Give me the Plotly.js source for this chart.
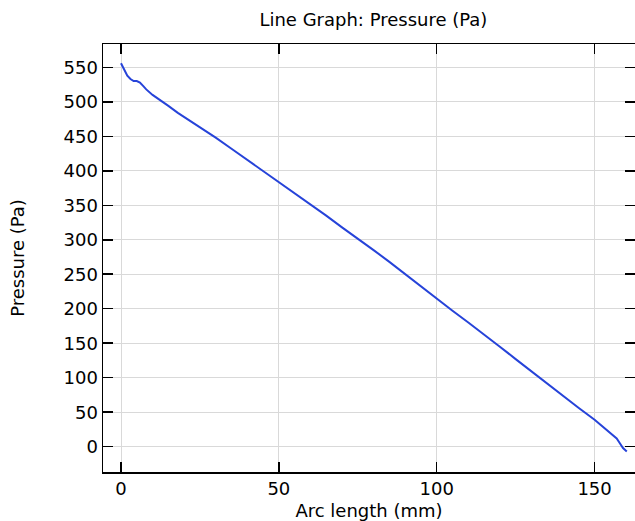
<!DOCTYPE html>
<html>
<head>
<meta charset="utf-8">
<script src="https://cdn.plot.ly/plotly-3.0.1.min.js"></script>
<style>html,body{margin:0;padding:0;background:#fff;}#chart{width:635px;height:521px;}</style>
</head>
<body>
<div id="chart"></div>
<script>
const arcLength = [0, 1, 2, 3, 4, 5, 6, 7, 8, 10, 12, 15, 18, 20, 22, 25, 30, 35, 40, 45, 50, 55, 60, 65, 70, 75, 80, 85, 90, 95, 100, 105, 110, 115, 120, 125, 130, 135, 140, 145, 150, 153, 155, 157, 158, 159, 160.2];
const pressure = [556, 547, 538, 533, 530, 530, 528, 523, 518, 510, 504, 494, 484, 478, 473, 464, 448, 432, 416, 400, 384, 368, 351, 335, 318, 302, 285, 268, 250, 232, 215, 197, 180, 163, 145, 127, 109, 91, 73, 56, 39, 28, 20, 12, 5, -2, -7];

const font = {family: 'DejaVu Sans, sans-serif', size: 18, color: '#000'};
const axisCommon = {
  showline: true, linecolor: '#000', linewidth: 1.5, mirror: 'ticks',
  ticks: 'inside', ticklen: 10, tickwidth: 1.5, tickcolor: '#000',
  showgrid: true, gridcolor: '#d9d9d9', gridwidth: 1, zeroline: false,
  tickfont: font
};
Plotly.newPlot('chart', [{
  x: arcLength, y: pressure, type: 'scatter', mode: 'lines',
  line: {color: '#2643d9', width: 2}
}], {
  width: 635, height: 521,
  margin: {l: 103, r: 0, t: 44, b: 49},
  paper_bgcolor: '#fff', plot_bgcolor: '#fff',
  showlegend: false,
  title: {text: 'Line Graph: Pressure (Pa)', font: font, x: 0.588, xanchor: 'center', y: 0.962, yanchor: 'middle'},
  xaxis: Object.assign({}, axisCommon, {range: [-5.7, 162.8], tickvals: [0, 50, 100, 150],
    title: {text: 'Arc length (mm)', font: font, standoff: 8}}),
  yaxis: Object.assign({}, axisCommon, {range: [-36.7, 583.8], dtick: 50, tick0: 0,
    title: {text: 'Pressure (Pa)', font: font, standoff: 34}})
}, {staticPlot: true, displayModeBar: false});
</script>
</body>
</html>
